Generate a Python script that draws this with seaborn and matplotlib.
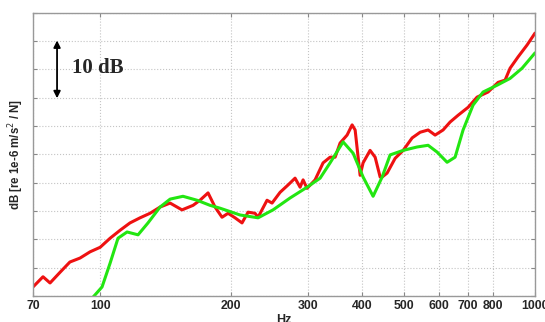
import numpy as np
import pandas as pd
import matplotlib
matplotlib.use("Agg")
import matplotlib.pyplot as plt
import seaborn as sns

# Frequencies (Hz) and levels (dB, relative)
red_hz = [70, 73.8, 76.6, 80.8, 85.1, 89.8, 94.7, 99.9, 105.3, 111.0, 117.0, 123.4,
          130.1, 137.2, 144.7, 154.1, 163.4, 169.5, 176.9, 183.6, 190.5, 196.7,
          204.1, 211.8, 218.7, 226.9, 230.6, 241.8, 248.3, 259.1, 270.3, 280.5,
          288.1, 292.7, 298.9, 311.9, 325.4, 337.7, 346.8, 356.1, 369.5, 379.5,
          385.6, 395.9, 402.2, 417.4, 428.7, 440.2, 444.9, 456.8, 476.6, 497.3,
          521.5, 544.1, 567.6, 589.0, 614.4, 637.7, 665.3, 701.5, 735.7, 779.8,
          822.2, 853.3, 876.2, 914.1, 958.8, 1000]
red_db = [1.6, 3.4, 2.3, 4.2, 6.0, 6.7, 7.8, 8.6, 10.2, 11.6, 12.9, 13.8,
          14.6, 15.7, 16.4, 15.2, 16.0, 16.9, 18.2, 15.7, 13.9, 14.6,
          13.8, 12.9, 14.8, 14.6, 13.9, 16.9, 16.4, 18.3, 19.6, 20.8,
          19.2, 20.5, 19.0, 20.5, 23.5, 24.5, 24.5, 27.0, 28.4, 30.2,
          29.3, 21.3, 23.5, 25.7, 24.5, 21.0, 21.0, 21.7, 24.3, 25.7,
          27.9, 28.9, 29.3, 28.4, 29.3, 30.7, 31.9, 33.3, 35.1, 36.0,
          37.7, 38.1, 40.2, 42.2, 44.3, 46.4]

green_hz = [96.2, 100.9, 105.3, 109.8, 115.2, 122.1, 128.7, 137.2, 144.7, 154.9,
            166.9, 178.8, 188.5, 209.6, 230.6, 249.6, 273.2, 298.9, 320.3, 337.7,
            361.8, 381.5, 402.2, 424.1, 444.9, 464.1, 497.3, 535.5, 567.6, 595.3,
            627.6, 654.8, 683.1, 720.3, 759.4, 817.9, 876.2, 933.7, 1000]
green_db = [-0.2, 1.6, 5.8, 10.2, 11.3, 10.8, 12.9, 15.7, 17.1, 17.6,
            16.9, 16.0, 15.5, 14.3, 13.8, 15.2, 17.3, 19.2, 20.8, 23.5,
            27.2, 25.2, 21.0, 17.6, 21.0, 24.9, 25.7, 26.3, 26.6, 25.4,
            23.6, 24.5, 29.3, 33.7, 36.0, 37.2, 38.4, 40.2, 42.9]

xticks = [70, 100, 200, 300, 400, 500, 600, 700, 800, 1000]
xtick_labels = ["70", "100", "200", "300", "400", "500", "600", "700", "800", "1000"]

df = pd.concat([
    pd.DataFrame({"Hz": red_hz, "dB": red_db, "s": "red"}),
    pd.DataFrame({"Hz": green_hz, "dB": green_db, "s": "green"}),
])

sns.set_style("white")
plt.rcParams["font.family"] = ["Liberation Sans", "DejaVu Sans"]

fig = plt.figure(figsize=(5.45, 3.22), dpi=100)
ax = fig.add_axes([0.0606, 0.0807, 0.9211, 0.8799])

sns.lineplot(data=df, x="Hz", y="dB", hue="s", palette={"red": "#ee1111", "green": "#22e611"},
             linewidth=2.2, legend=False, ax=ax, sort=False)

ax.set_xscale("log")
ax.set_xlim(70, 1000)
ax.set_ylim(0, 50)
ax.set_xticks(xticks)
ax.set_xticklabels(xtick_labels, fontsize=8.8, fontweight="bold")
ax.xaxis.set_minor_locator(matplotlib.ticker.NullLocator())
ax.set_yticks(np.arange(0, 51, 5))
ax.set_yticklabels([])
ax.tick_params(axis="both", direction="in", length=3, color="#888888",
               top=True, right=True, left=True, bottom=True, pad=3)
ax.grid(True, linestyle=":", color="#c4c4c4", linewidth=0.8)
for sp in ax.spines.values():
    sp.set_color("#999999")
    sp.set_linewidth(1.0)

ax.set_xlabel("Hz", fontsize=9, fontweight="bold", labelpad=1)
ax.set_ylabel("dB [re 1e-6 m/s$^2$ / N]", fontsize=8.3, fontweight="bold", labelpad=2)

ax.annotate("", xy=(79.5, 45.1), xytext=(79.5, 34.9),
            arrowprops=dict(arrowstyle="<|-|>", color="black", lw=1.3,
                            mutation_scale=10, shrinkA=0, shrinkB=0))
ax.text(86.0, 40.2, "10 dB", fontsize=15, fontweight="bold",
        family=["Liberation Serif", "DejaVu Serif"], va="center", ha="left")

fig.savefig("out.png", dpi=100)
